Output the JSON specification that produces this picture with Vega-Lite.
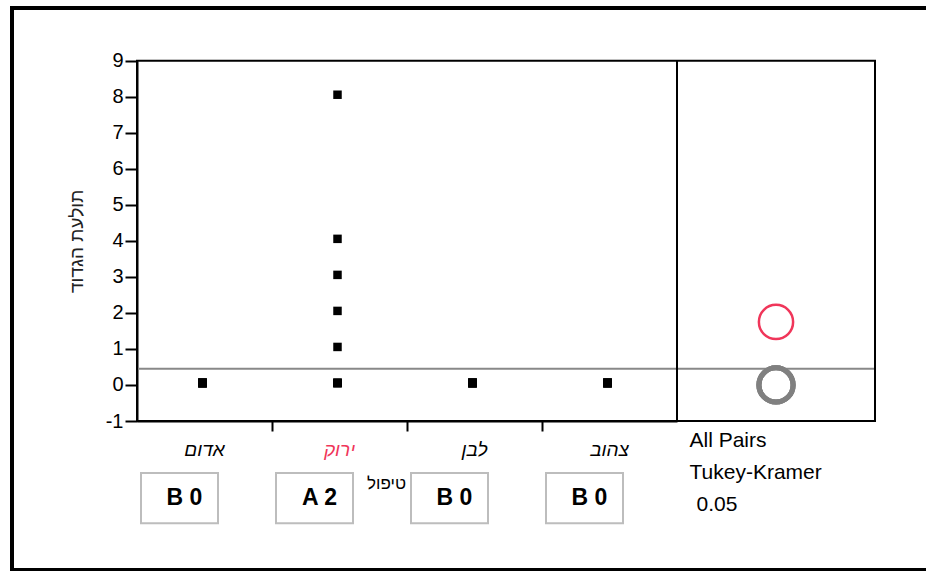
{
  "$schema": "https://vega.github.io/schema/vega-lite/v6.json",
  "width": 914,
  "height": 562,
  "autosize": {"type": "none"},
  "padding": {"left": 12, "top": 8, "right": 0, "bottom": 1},
  "background": "white",
  "config": {
    "view": {"stroke": null},
    "font": "Liberation Sans"
  },
  "datasets": {
    "obs": [
      {"group": "אדום", "count": 0}, {"group": "אדום", "count": 0}, {"group": "אדום", "count": 0}, {"group": "אדום", "count": 0}, {"group": "אדום", "count": 0},
      {"group": "אדום", "count": 0}, {"group": "אדום", "count": 0}, {"group": "אדום", "count": 0}, {"group": "אדום", "count": 0}, {"group": "אדום", "count": 0},
      {"group": "ירוק", "count": 0}, {"group": "ירוק", "count": 0}, {"group": "ירוק", "count": 0}, {"group": "ירוק", "count": 0}, {"group": "ירוק", "count": 0},
      {"group": "ירוק", "count": 1}, {"group": "ירוק", "count": 2}, {"group": "ירוק", "count": 3}, {"group": "ירוק", "count": 4}, {"group": "ירוק", "count": 8},
      {"group": "לבן", "count": 0}, {"group": "לבן", "count": 0}, {"group": "לבן", "count": 0}, {"group": "לבן", "count": 0}, {"group": "לבן", "count": 0},
      {"group": "לבן", "count": 0}, {"group": "לבן", "count": 0}, {"group": "לבן", "count": 0}, {"group": "לבן", "count": 0}, {"group": "לבן", "count": 0},
      {"group": "צהוב", "count": 0}, {"group": "צהוב", "count": 0}, {"group": "צהוב", "count": 0}, {"group": "צהוב", "count": 0}, {"group": "צהוב", "count": 0},
      {"group": "צהוב", "count": 0}, {"group": "צהוב", "count": 0}, {"group": "צהוב", "count": 0}, {"group": "צהוב", "count": 0}, {"group": "צהוב", "count": 0}
    ],
    "means": [
      {"group": "אדום", "mean": 0},
      {"group": "לבן", "mean": 0},
      {"group": "צהוב", "mean": 0},
      {"group": "ירוק", "mean": 1.75}
    ],
    "letters": [
      {"group": "אדום", "label": "B 0"},
      {"group": "ירוק", "label": "A 2"},
      {"group": "לבן", "label": "B 0"},
      {"group": "צהוב", "label": "B 0"}
    ],
    "frame": [{"left": 0, "right": 1, "bottom": -1, "top": 9}]
  },
  "resolve": {"scale": {"x": "independent"}, "axis": {"x": "independent"}},
  "layer": [
    {
      "data": {"name": "obs"},
      "mark": {"type": "rule", "color": "#888888", "strokeWidth": 2},
      "encoding": {
        "x": {"datum": 0, "type": "quantitative", "scale": {"domain": [0, 1], "range": [125, 863]}, "axis": null},
        "x2": {"datum": 1},
        "y": {
          "aggregate": "mean", "field": "count", "type": "quantitative",
          "scale": {"domain": [-1, 9], "range": [413, 52.7], "nice": false, "zero": false},
          "axis": {
            "title": "תולעת הגדוד",
            "offset": -125,
            "values": [-1, 0, 1, 2, 3, 4, 5, 6, 7, 8, 9],
            "labelExpr": "'' + datum.value",
            "grid": false,
            "tickSize": 12,
            "tickWidth": 2,
            "tickColor": "black",
            "domainColor": "black",
            "domainWidth": 2,
            "labelFontSize": 20,
            "labelColor": "black",
            "labelPadding": 2,
            "titleFontSize": 19,
            "titleFontWeight": "normal",
            "titleColor": "#222222",
            "titlePadding": 19
          }
        }
      }
    },
    {
      "data": {"name": "obs"},
      "mark": {"type": "point", "shape": "square", "filled": true, "color": "black", "size": 72, "opacity": 1, "xOffset": -2, "yOffset": -2},
      "encoding": {
        "x": {
          "field": "group", "type": "nominal",
          "scale": {"type": "band", "domain": ["אדום", "ירוק", "לבן", "צהוב"], "range": [125, 665], "paddingInner": 0, "paddingOuter": 0},
          "axis": {
            "orient": "bottom",
            "offset": -149,
            "title": "טיפול",
            "titleX": 374,
            "titleY": 62,
            "titleBaseline": "middle",
            "titleFontSize": 17,
            "titleFontWeight": "normal",
            "titleColor": "black",
            "bandPosition": 0,
            "tickSize": 10,
            "tickWidth": 2,
            "tickColor": "black",
            "tickOpacity": {"condition": {"test": "datum.value === 'אדום'", "value": 0}, "value": 1},
            "domainColor": "black",
            "domainWidth": 2,
            "labelAngle": 0,
            "labelFontSize": 19,
            "labelFontStyle": "italic",
            "labelColor": {"condition": {"test": "datum.value === 'ירוק'", "value": "#f0365a"}, "value": "black"},
            "labelPadding": 9
          }
        },
        "y": {"field": "count", "type": "quantitative"}
      }
    },
    {
      "data": {"name": "letters"},
      "mark": {"type": "point", "shape": "M-1,-0.65L1,-0.65L1,0.65L-1,0.65Z", "size": 5929, "filled": true, "fill": "white", "stroke": "#bdbdbd", "strokeWidth": 2, "opacity": 1, "xOffset": -25},
      "encoding": {
        "x": {
          "field": "group", "type": "nominal",
          "scale": {"type": "band", "domain": ["אדום", "ירוק", "לבן", "צהוב"], "range": [125, 665], "paddingInner": 0, "paddingOuter": 0},
          "axis": null
        },
        "y": {"datum": -3.14, "type": "quantitative"}
      }
    },
    {
      "data": {"name": "letters"},
      "mark": {"type": "text", "fontSize": 23, "fontWeight": "bold", "color": "black", "baseline": "middle", "align": "center", "xOffset": -20},
      "encoding": {
        "x": {
          "field": "group", "type": "nominal",
          "scale": {"type": "band", "domain": ["אדום", "ירוק", "לבן", "צהוב"], "range": [125, 665], "paddingInner": 0, "paddingOuter": 0},
          "axis": null
        },
        "y": {"datum": -3.14, "type": "quantitative"},
        "text": {"field": "label"}
      }
    },
    {
      "data": {"name": "means"},
      "mark": {"type": "point", "shape": "circle", "filled": false, "size": 1170, "opacity": 1},
      "encoding": {
        "x": {
          "datum": 0.5, "type": "quantitative",
          "scale": {"domain": [0, 1], "range": [665, 863]},
          "axis": {
            "orient": "bottom",
            "offset": -149,
            "domain": false,
            "ticks": false,
            "labels": false,
            "grid": false,
            "title": ["All Pairs", "Tukey-Kramer"],
            "titleAlign": "left",
            "titleX": 677,
            "titleY": 25,
            "titleBaseline": "alphabetic",
            "titleFontSize": 21,
            "titleFontWeight": "normal",
            "titleLineHeight": 32,
            "titleColor": "black"
          }
        },
        "y": {"field": "mean", "type": "quantitative"},
        "stroke": {"condition": {"test": "datum.group === 'ירוק'", "value": "#f0365a"}, "value": "#808080"},
        "strokeWidth": {"condition": {"test": "datum.group === 'ירוק'", "value": 2.5}, "value": 5}
      }
    },
    {
      "data": {"name": "frame"},
      "mark": {"type": "rect", "fill": null, "filled": false, "stroke": "black", "strokeWidth": 2},
      "encoding": {
        "x": {
          "field": "left", "type": "quantitative",
          "scale": {"domain": [0, 1], "range": [125, 863]},
          "axis": {
            "orient": "bottom",
            "offset": -149,
            "domain": false,
            "ticks": false,
            "labels": false,
            "grid": false,
            "title": "0.05",
            "titleAlign": "left",
            "titleX": 684,
            "titleY": 89,
            "titleBaseline": "alphabetic",
            "titleFontSize": 21,
            "titleFontWeight": "normal",
            "titleColor": "black"
          }
        },
        "x2": {"field": "right"},
        "y": {"field": "bottom", "type": "quantitative"},
        "y2": {"field": "top"}
      }
    },
    {
      "data": {"name": "frame"},
      "mark": {"type": "rule", "color": "black", "strokeWidth": 2},
      "encoding": {
        "x": {"field": "left", "type": "quantitative", "scale": {"domain": [0, 1], "range": [665, 863]}, "axis": null},
        "y": {"field": "bottom", "type": "quantitative"},
        "y2": {"field": "top"}
      }
    },
    {
      "data": {"name": "frame"},
      "mark": {"type": "rect", "fill": null, "filled": false, "stroke": "black", "strokeWidth": 4},
      "encoding": {
        "x": {"datum": 0, "type": "quantitative", "scale": {"domain": [0, 1], "range": [0, 1400]}, "axis": null},
        "x2": {"datum": 1},
        "y": {"datum": 10.463, "type": "quantitative"},
        "y2": {"datum": -5.135}
      }
    }
  ]
}
